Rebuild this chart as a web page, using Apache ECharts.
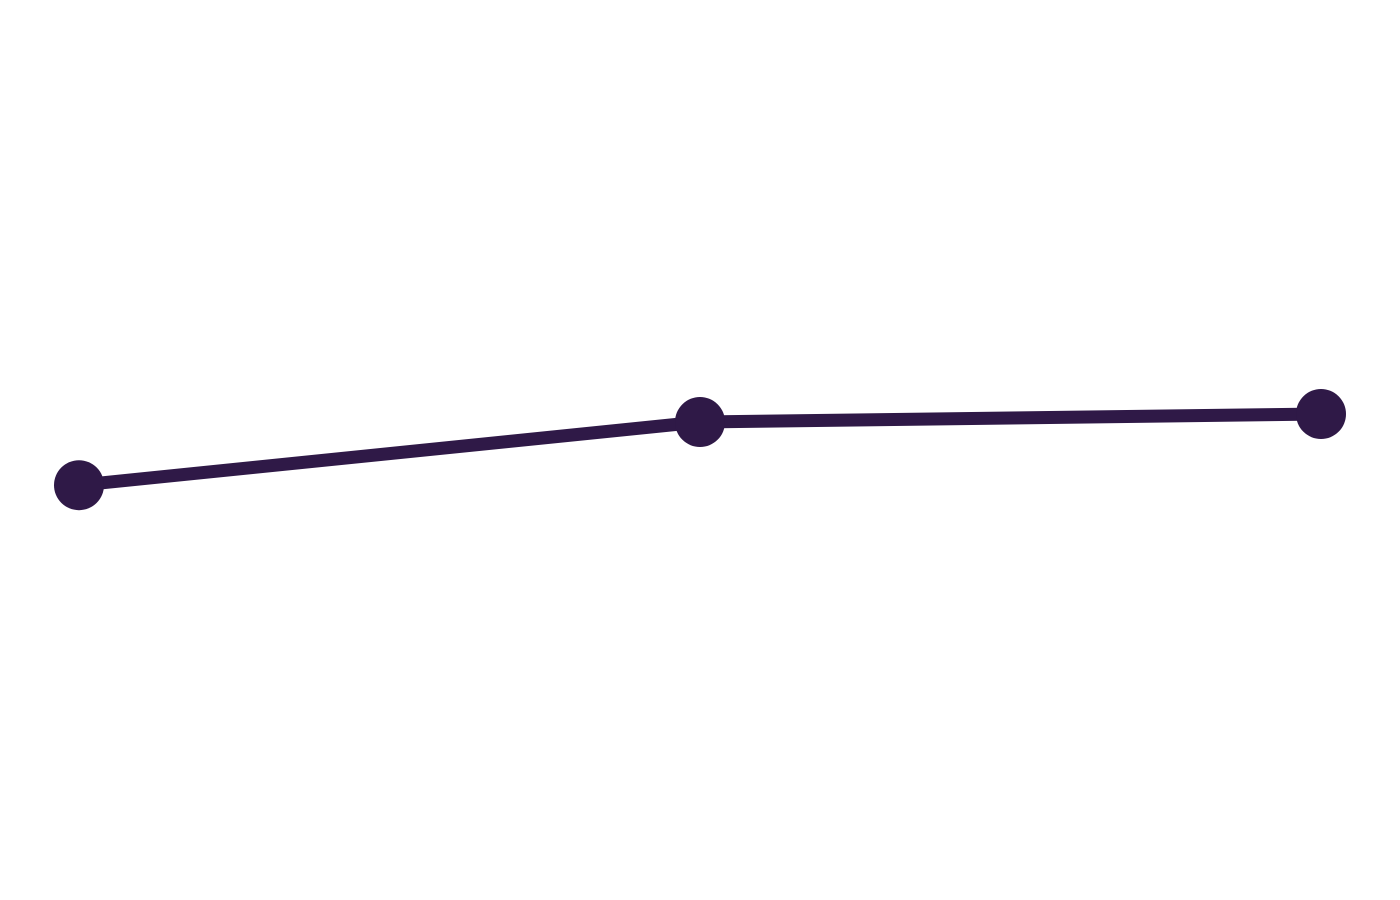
<!DOCTYPE html>
<html>
<head>
<meta charset="utf-8">
<script src="https://cdn.jsdelivr.net/npm/echarts@6/dist/echarts.min.js"></script>
<style>html,body{margin:0;padding:0;background:#fff;}#c{width:1400px;height:900px;}</style>
</head>
<body>
<div id="c"></div>
<script>
const categories = ['A', 'B', 'C'];
const values = [45.6, 53.5, 54.5];

const chart = echarts.init(document.getElementById('c'), null, {renderer: 'canvas', devicePixelRatio: 2});
chart.setOption({
  animation: false,
  backgroundColor: '#ffffff',
  grid: {left: 79, right: 79, top: 50, bottom: 50},
  xAxis: {type: 'category', data: categories, boundaryGap: false, show: false},
  yAxis: {type: 'value', min: 0, max: 100, show: false},
  series: [{
    type: 'line',
    data: values,
    symbol: 'circle',
    symbolSize: 50,
    showAllSymbol: true,
    lineStyle: {color: '#2f1947', width: 13},
    itemStyle: {color: '#2f1947', borderWidth: 0}
  }]
});
</script>
</body>
</html>
